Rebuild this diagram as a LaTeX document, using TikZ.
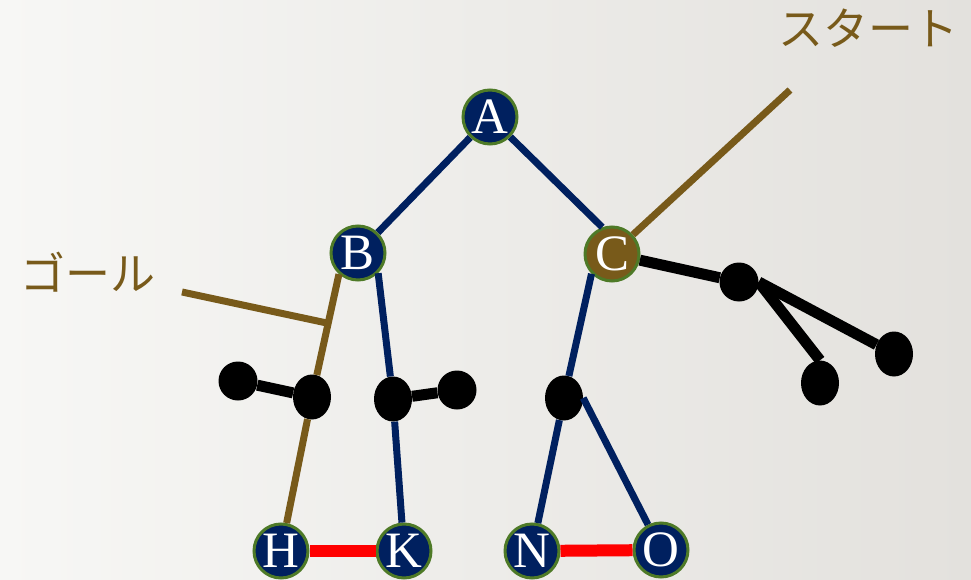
\documentclass[tikz,border=0pt]{standalone}
\usepackage{fontspec}
\setmainfont{Liberation Serif}
\newfontfamily\jpfont{Noto Sans CJK JP}
\usetikzlibrary{calc,shapes.geometric}
\definecolor{navy}{HTML}{00205F}
\definecolor{ochre}{HTML}{785A1A}
\definecolor{rim}{HTML}{4E7A27}
\definecolor{paperL}{HTML}{F7F7F5}
\definecolor{paperR}{HTML}{E3E1DD}
\begin{document}
\begin{tikzpicture}[x=1pt,y=-1pt,
	vert/.style={circle,fill=navy,draw=rim,line width=3pt,minimum size=54pt,inner sep=0pt,text=white,font=\fontsize{51}{51}\selectfont},
	knob/.style={circle,fill=black,minimum size=39pt,inner sep=0pt},
	tallknob/.style={ellipse,fill=black,minimum width=38pt,minimum height=45pt,inner sep=0pt},
	tree/.style={draw=navy,line width=7pt},
	trail/.style={draw=ochre,line width=7pt},
	stub/.style={draw=black,line width=11pt},
	link/.style={draw=red,line width=12pt},
	tag/.style={text=ochre,font=\jpfont\fontsize{45}{45}\selectfont}]
	\def\W{971} \def\H{580}
	% background
	\shade[left color=paperL, right color=paperR] (0,0) rectangle (\W,\H);
	\useasboundingbox (0,0) rectangle (\W,\H);
	% vertices
	\node[vert] (A) at (490,117) {A};
	\node[vert] (B) at (358,253) {B};
	\node[vert,fill=ochre] (C) at (612,254) {C};
	\node[vert] (H) at (281,551) {H};
	\node[vert] (K) at (404,551) {K};
	\node[vert] (N) at (532,551) {N};
	\node[vert] (O) at (661,550) {O};
	% dead ends
	\node[knob] (p1) at (238,381) {};
	\node[tallknob] (p2) at (312,397) {};
	\node[tallknob] (p3) at (393,399) {};
	\node[knob] (p4) at (457,390) {};
	\node[tallknob] (p5) at (564,398) {};
	\node[knob] (p6) at (739,282) {};
	\node[tallknob] (p7) at (820,383) {};
	\node[tallknob] (p8) at (894,354) {};
	% labels
	\node[tag] (start) at (868,28) {スタート};
	\node[tag] (goal) at (88,272) {ゴール};
	\coordinate (s) at (790,90);
	\coordinate (g) at (182,292);
	% edges
	\path[tree] (A) -- (B);
	\path[tree] (A) -- (C.110);
	\path[tree] (B.315) -- (p3) -- (K);
	\path[tree] (C.224) -- (p5) -- (N);
	\path[tree] (p5.east) -- (O);
	\path[stub] (p1) -- (p2);
	\path[stub] (p3) -- (p4);
	\path[stub] (C) -- (p6);
	\path[stub] (p6.east) -- (p7.north);
	\path[stub] (p6.east) -- (p8);
	\path[trail] (B.228) -- (p2) -- (H);
	\path[trail] (s) -- (C);
	\path[trail] (g) -- ($(B.228)!0.4!(p2)$);
	\path[link] (H) -- (K);
	\path[link] (N) -- (O);
\end{tikzpicture}
\end{document}
